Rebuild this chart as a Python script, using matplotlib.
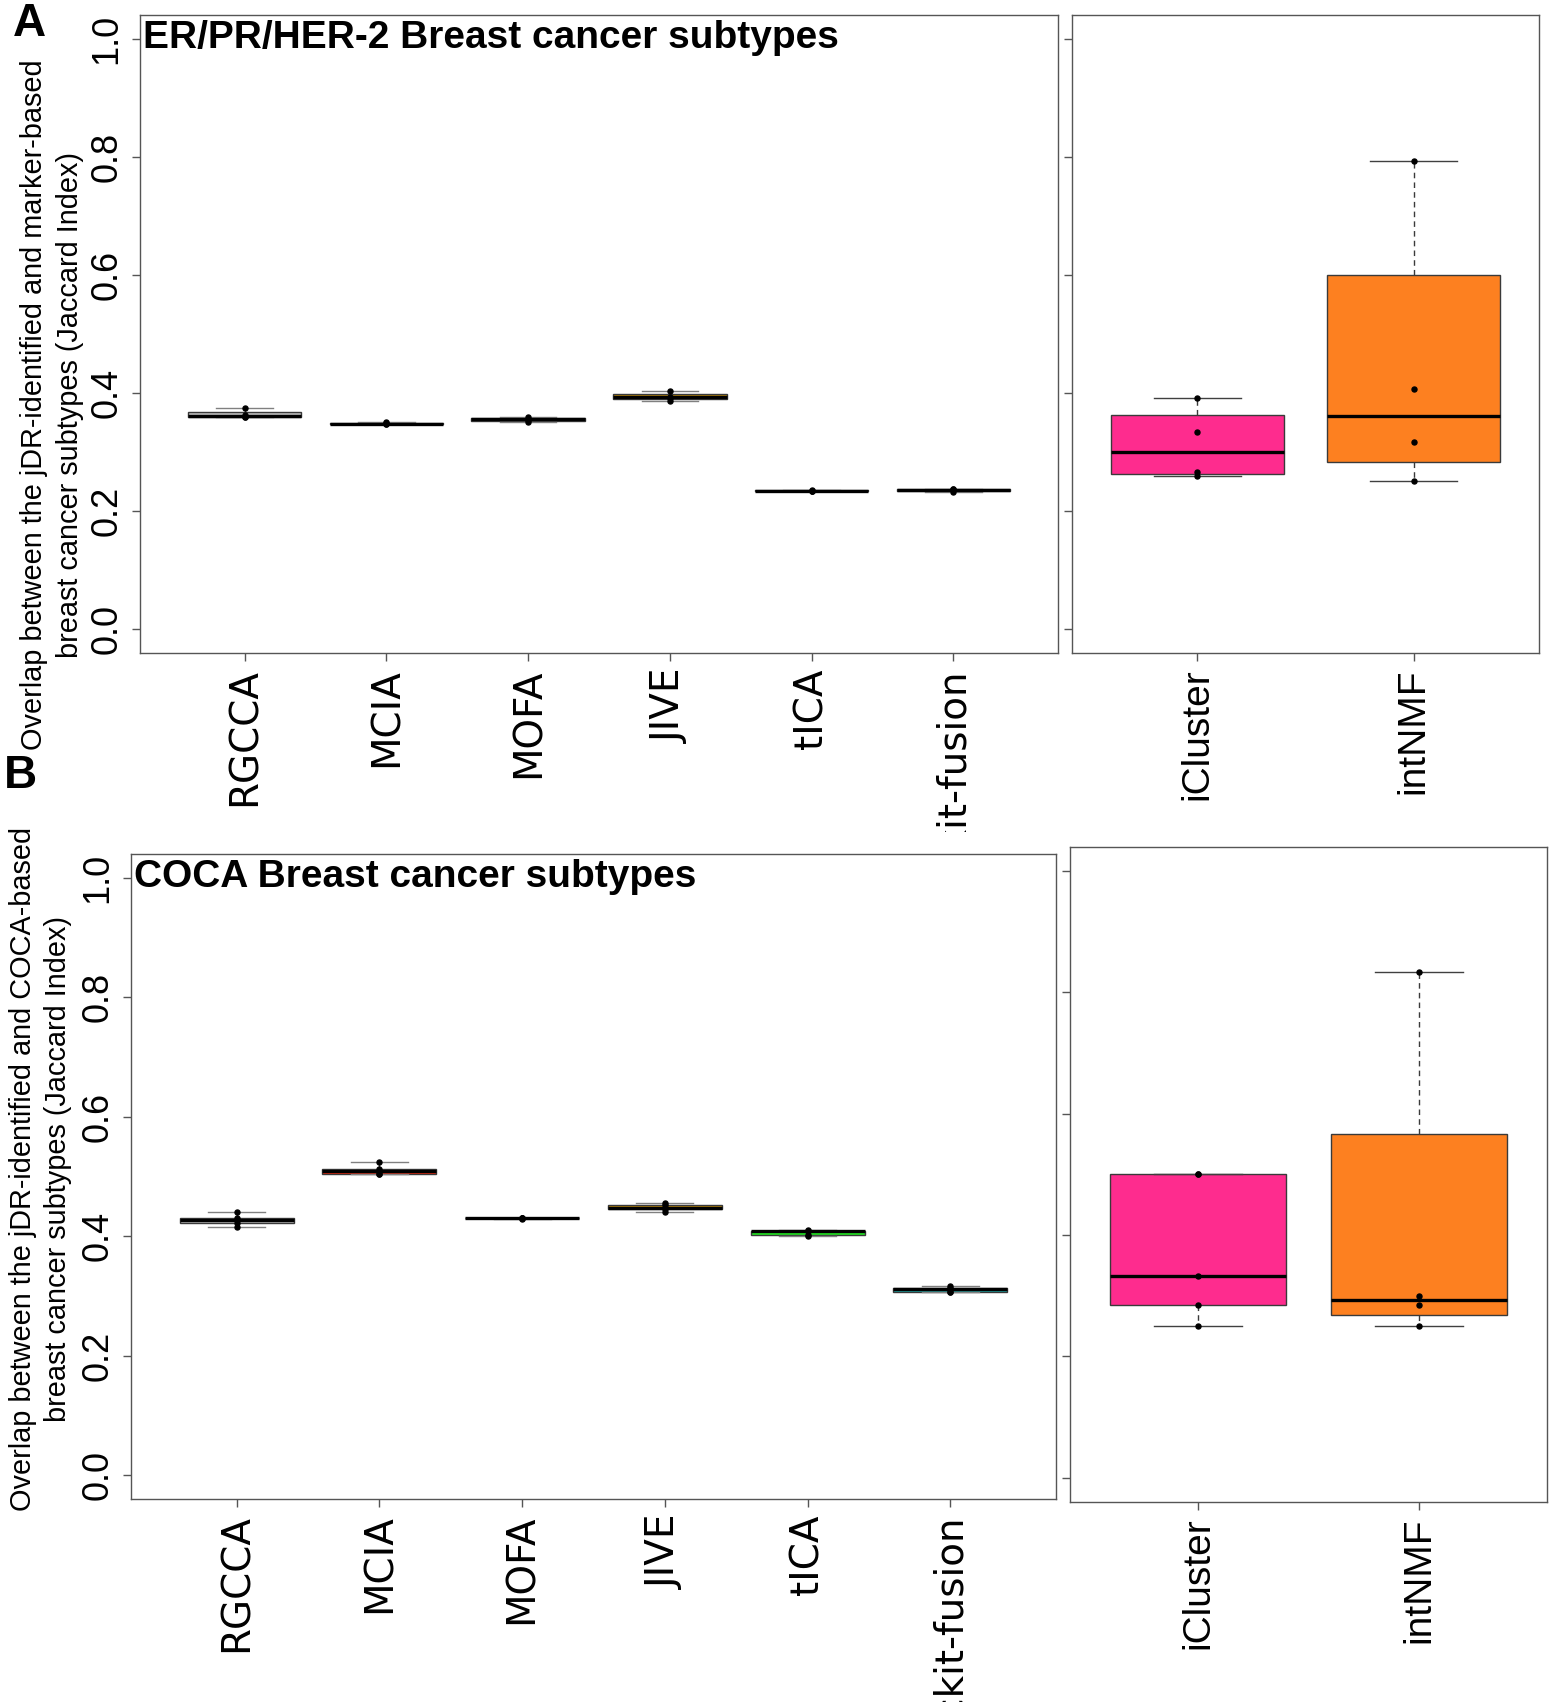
import numpy as np
import matplotlib
matplotlib.use("Agg")
import matplotlib.pyplot as plt
from matplotlib import font_manager as fm
from matplotlib.transforms import Bbox, TransformedBbox

# ---- data (Jaccard index per run) ----
methods_main = ["RGCCA", "MCIA", "MOFA", "JIVE", "tICA", "sckit-fusion"]
methods_side = ["iCluster", "intNMF"]

colors_main = ["#bebebe", "#f02a10", "#2a49c9", "#c08a08", "#22e622", "#1aa6a6"]
colors_side = ["#fe2c8e", "#fd8020"]

# panel A: ER/PR/HER-2 subtypes
a_rgcca = [0.360, 0.360, 0.363, 0.374]
a_mcia = [0.347, 0.348, 0.349, 0.351]
a_mofa = [0.351, 0.355, 0.357, 0.359]
a_jive = [0.387, 0.392, 0.394, 0.403]
a_tica = [0.234, 0.235, 0.235, 0.236]
a_sckit = [0.233, 0.236, 0.237, 0.238]
a_icluster = [0.260, 0.267, 0.334, 0.391]
a_intnmf = [0.251, 0.317, 0.407, 0.792]

# panel B: COCA subtypes
b_rgcca = [0.416, 0.422, 0.427, 0.431, 0.441]
b_mcia = [0.505, 0.505, 0.510, 0.513, 0.524]
b_mofa = [0.429, 0.430, 0.430, 0.431, 0.431]
b_jive = [0.441, 0.445, 0.448, 0.453, 0.456]
b_tica = [0.401, 0.402, 0.408, 0.409, 0.410]
b_sckit = [0.306, 0.307, 0.311, 0.313, 0.316]
b_icluster = [0.250, 0.285, 0.333, 0.500, 0.500]
b_intnmf = [0.250, 0.285, 0.300, 0.833]

yticks = [0.0, 0.2, 0.4, 0.6, 0.8, 1.0]
ytick_labels = ["0.0", "0.2", "0.4", "0.6", "0.8", "1.0"]


def pick_font(*names):
    for n in names:
        try:
            fm.findfont(fm.FontProperties(family=n), fallback_to_default=False)
            return n
        except ValueError:
            pass
    return "DejaVu Sans"


narrow = pick_font("Liberation Sans Narrow", "Liberation Sans")
is_narrow = narrow == "Liberation Sans Narrow"
arial = pick_font("Liberation Sans", "DejaVu Sans")
wide = "DejaVu Sans"

ytick_fs = 31 if is_narrow else 26
side_fs = 34 if is_narrow else 28
ylab_fs = 25 if is_narrow else 20.8


def fivenum_stats(vals, label):
    # Tukey hinges, like R's boxplot
    x = np.sort(np.asarray(vals, float))
    n = len(x)
    n4 = np.floor((n + 3) / 2) / 2
    d = np.array([1, n4, (n + 1) / 2, n + 1 - n4, n])
    five = 0.5 * (x[(np.floor(d) - 1).astype(int)] + x[(np.ceil(d) - 1).astype(int)])
    iqr = five[3] - five[1]
    inside = x[(x >= five[1] - 1.5 * iqr) & (x <= five[3] + 1.5 * iqr)]
    return dict(label=label, med=five[2], q1=five[1], q3=five[3],
                whislo=inside.min(), whishi=inside.max(), fliers=[])


def draw_panel(ax, names, groups, colors, xlim, cap_color, label_font, label_fs, ylabels):
    pos = np.arange(1, len(names) + 1)
    stats = [fivenum_stats(v, n) for v, n in zip(groups, names)]
    bp = ax.bxp(stats, positions=pos, widths=0.8, capwidths=0.4, patch_artist=True,
                showfliers=False,
                boxprops=dict(edgecolor="#3a3a3a", linewidth=1.0),
                medianprops=dict(color="black", linewidth=2.4, solid_capstyle="butt"),
                whiskerprops=dict(color="#3a3a3a", linewidth=1.0, linestyle=(0, (4, 3))),
                capprops=dict(color=cap_color, linewidth=1.0))
    for patch, c in zip(bp["boxes"], colors):
        patch.set_facecolor(c)
    for p, v in zip(pos, groups):
        ax.plot(np.full(len(v), p), v, "o", ms=3.6, color="black", zorder=5)
    ax.set_xlim(*xlim)
    ax.set_ylim(-0.04, 1.04)
    ax.set_xticks(pos)
    ax.set_xticklabels(names, rotation=90, fontsize=label_fs, family=label_font)
    ax.set_yticks(yticks)
    if ylabels:
        ax.set_yticklabels(ytick_labels, rotation=90, va="center", fontsize=ytick_fs, family=narrow)
    else:
        ax.set_yticklabels([])
    ax.tick_params(axis="both", length=6, width=1, color="#555555", pad=5)
    for s in ax.spines.values():
        s.set_color("#555555")
        s.set_linewidth(1.0)


fig = plt.figure(figsize=(15.5, 17.02), dpi=100)

# panel A
axA1 = fig.add_axes([0.0903, 0.6163, 0.5923, 0.3749])
axA2 = fig.add_axes([0.6916, 0.6163, 0.3013, 0.3749])
draw_panel(axA1, methods_main, [a_rgcca, a_mcia, a_mofa, a_jive, a_tica, a_sckit],
           colors_main, (0.26, 6.74), "#808080", wide, 28, True)
draw_panel(axA2, methods_side, [a_icluster, a_intnmf], colors_side, (0.42, 2.58),
           "#404040", narrow, side_fs, False)
axA1.text(0.003, 0.992, "ER/PR/HER-2 Breast cancer subtypes", transform=axA1.transAxes,
          ha="left", va="top", fontsize=28, fontweight="bold", family=arial)

# panel B
axB1 = fig.add_axes([0.0845, 0.1193, 0.5968, 0.3789])
axB2 = fig.add_axes([0.6903, 0.1175, 0.3078, 0.3849])
draw_panel(axB1, methods_main, [b_rgcca, b_mcia, b_mofa, b_jive, b_tica, b_sckit],
           colors_main, (0.26, 6.74), "#808080", wide, 28, True)
draw_panel(axB2, methods_side, [b_icluster, b_intnmf], colors_side, (0.42, 2.58),
           "#404040", narrow, side_fs, False)
axB1.text(0.003, 0.992, "COCA Breast cancer subtypes", transform=axB1.transAxes,
          ha="left", va="top", fontsize=28, fontweight="bold", family=arial)

# panel A x labels are cut off where panel B starts
clip = TransformedBbox(Bbox([[0, 0.511], [1, 1]]), fig.transFigure)
for lab in axA1.get_xticklabels():
    lab.set_clip_box(clip)
    lab.set_clip_on(True)

# y axis titles
fig.text(0.0335, 0.762, "Overlap between the jDR-identified and marker-based\n"
         "breast cancer subtypes (Jaccard Index)", rotation=90, ha="center", va="center",
         multialignment="center", fontsize=ylab_fs, family=narrow, linespacing=1.35)
fig.text(0.0262, 0.3132, "Overlap between the jDR-identified and COCA-based\n"
         "breast cancer subtypes (Jaccard Index)", rotation=90, ha="center", va="center",
         multialignment="center", fontsize=ylab_fs, family=narrow, linespacing=1.35)

# panel letters
fig.text(0.0187, 0.986, "A", ha="center", va="center", fontsize=33, fontweight="bold", family=arial)
fig.text(0.0129, 0.544, "B", ha="center", va="center", fontsize=33, fontweight="bold", family=arial)

fig.savefig("out.png", dpi=100)
